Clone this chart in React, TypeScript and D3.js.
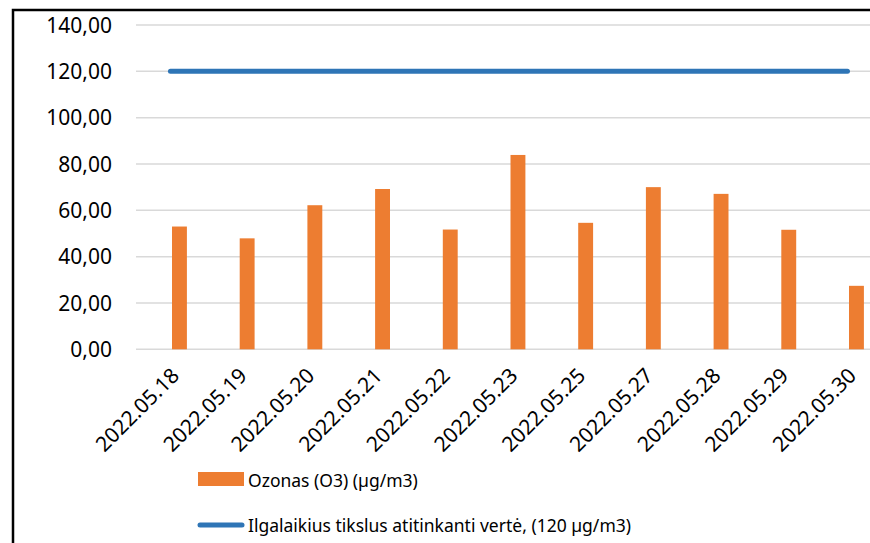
import React, { useRef, useEffect } from 'react';
import * as d3 from 'd3';

const dates = [
  '2022.05.18', '2022.05.19', '2022.05.20', '2022.05.21', '2022.05.22', '2022.05.23',
  '2022.05.25', '2022.05.27', '2022.05.28', '2022.05.29', '2022.05.30',
];
const ozone = [53.0, 47.9, 62.2, 69.2, 51.7, 83.9, 54.6, 70.0, 67.1, 51.6, 27.4];
const limit = [120, 120, 120, 120, 120, 120, 120, 120, 120, 120, 120];
const yTicks = [0, 20, 40, 60, 80, 100, 120, 140];

const seriesNames = ['Ozonas (O3) (µg/m3)', 'Ilgalaikius tikslus atitinkanti vertė, (120 µg/m3)'];

export default function App() {
  const svgRef = useRef<SVGSVGElement>(null);

  useEffect(() => {
    const W = 870, H = 543;
    const svg = d3.select(svgRef.current).attr('width', W).attr('height', H);
    svg.selectAll('*').remove();

    const font = '"Noto Sans", sans-serif';
    const orange = '#ED7D31';
    const blue = '#2E75B6';

    // рамка
    svg.append('rect')
      .attr('x', 13).attr('y', 10).attr('width', 1000).attr('height', 1000)
      .attr('fill', 'none').attr('stroke', '#000').attr('stroke-width', 2.5);

    const x = d3.scaleBand<string>()
      .domain(dates)
      .range([145.6, 145.6 + 67.7 * dates.length])
      .paddingInner(0.78).paddingOuter(0.39);

    const y = d3.scaleLinear().domain([0, 140]).range([349.3, 25]);

    // сетка
    svg.append('g')
      .selectAll('line')
      .data(yTicks)
      .join('line')
        .attr('x1', 136).attr('x2', 900)
        .attr('y1', d => y(d)).attr('y2', d => y(d))
        .attr('stroke', '#D9D9D9').attr('stroke-width', 1.5);

    // подписи оси Y
    svg.append('g')
      .selectAll('text')
      .data(yTicks)
      .join('text')
        .attr('x', 112).attr('y', d => y(d))
        .attr('dy', '0.36em')
        .attr('text-anchor', 'end')
        .style('font-family', font).style('font-size', '21px').attr('fill', '#000')
        .text(d => d3.format('.2f')(d).replace('.', ','));

    // бары
    svg.append('g')
      .selectAll('rect')
      .data(ozone)
      .join('rect')
        .attr('x', (_, i) => x(dates[i])!)
        .attr('y', d => y(d))
        .attr('width', x.bandwidth())
        .attr('height', d => y(0) - y(d))
        .attr('fill', orange);

    // линия нормы
    const cx = (d: string) => x(d)! + x.bandwidth() / 2;
    const line = d3.line<number>()
      .x((_, i) => cx(dates[i]) - 9)
      .y(d => y(d));
    svg.append('path')
      .datum(limit)
      .attr('d', line)
      .attr('fill', 'none').attr('stroke', blue)
      .attr('stroke-width', 5).attr('stroke-linecap', 'round');

    // подписи оси X
    svg.append('g')
      .selectAll('text')
      .data(dates)
      .join('text')
        .attr('transform', d => `translate(${cx(d) + 1},${377}) rotate(-45)`)
        .attr('text-anchor', 'end')
        .style('font-family', font).style('font-size', '21px').attr('fill', '#000')
        .text(d => d);

    // легенда
    const lg = svg.append('g');
    lg.append('rect')
      .attr('x', 198).attr('y', 472).attr('width', 46).attr('height', 14)
      .attr('fill', orange);
    lg.append('line')
      .attr('x1', 200).attr('x2', 242).attr('y1', 525).attr('y2', 525)
      .attr('stroke', blue).attr('stroke-width', 5).attr('stroke-linecap', 'round');
    lg.selectAll('text')
      .data(seriesNames)
      .join('text')
        .attr('x', 248)
        .attr('y', (_, i) => 487 + i * 45)
        .style('font-family', font).style('font-size', '17.5px').attr('fill', '#000')
        .text(d => d);
  }, []);

  return (
    <div style={{ position: 'absolute', left: 0, top: 0 }}>
      <svg ref={svgRef} style={{ display: 'block' }} />
    </div>
  );
}
